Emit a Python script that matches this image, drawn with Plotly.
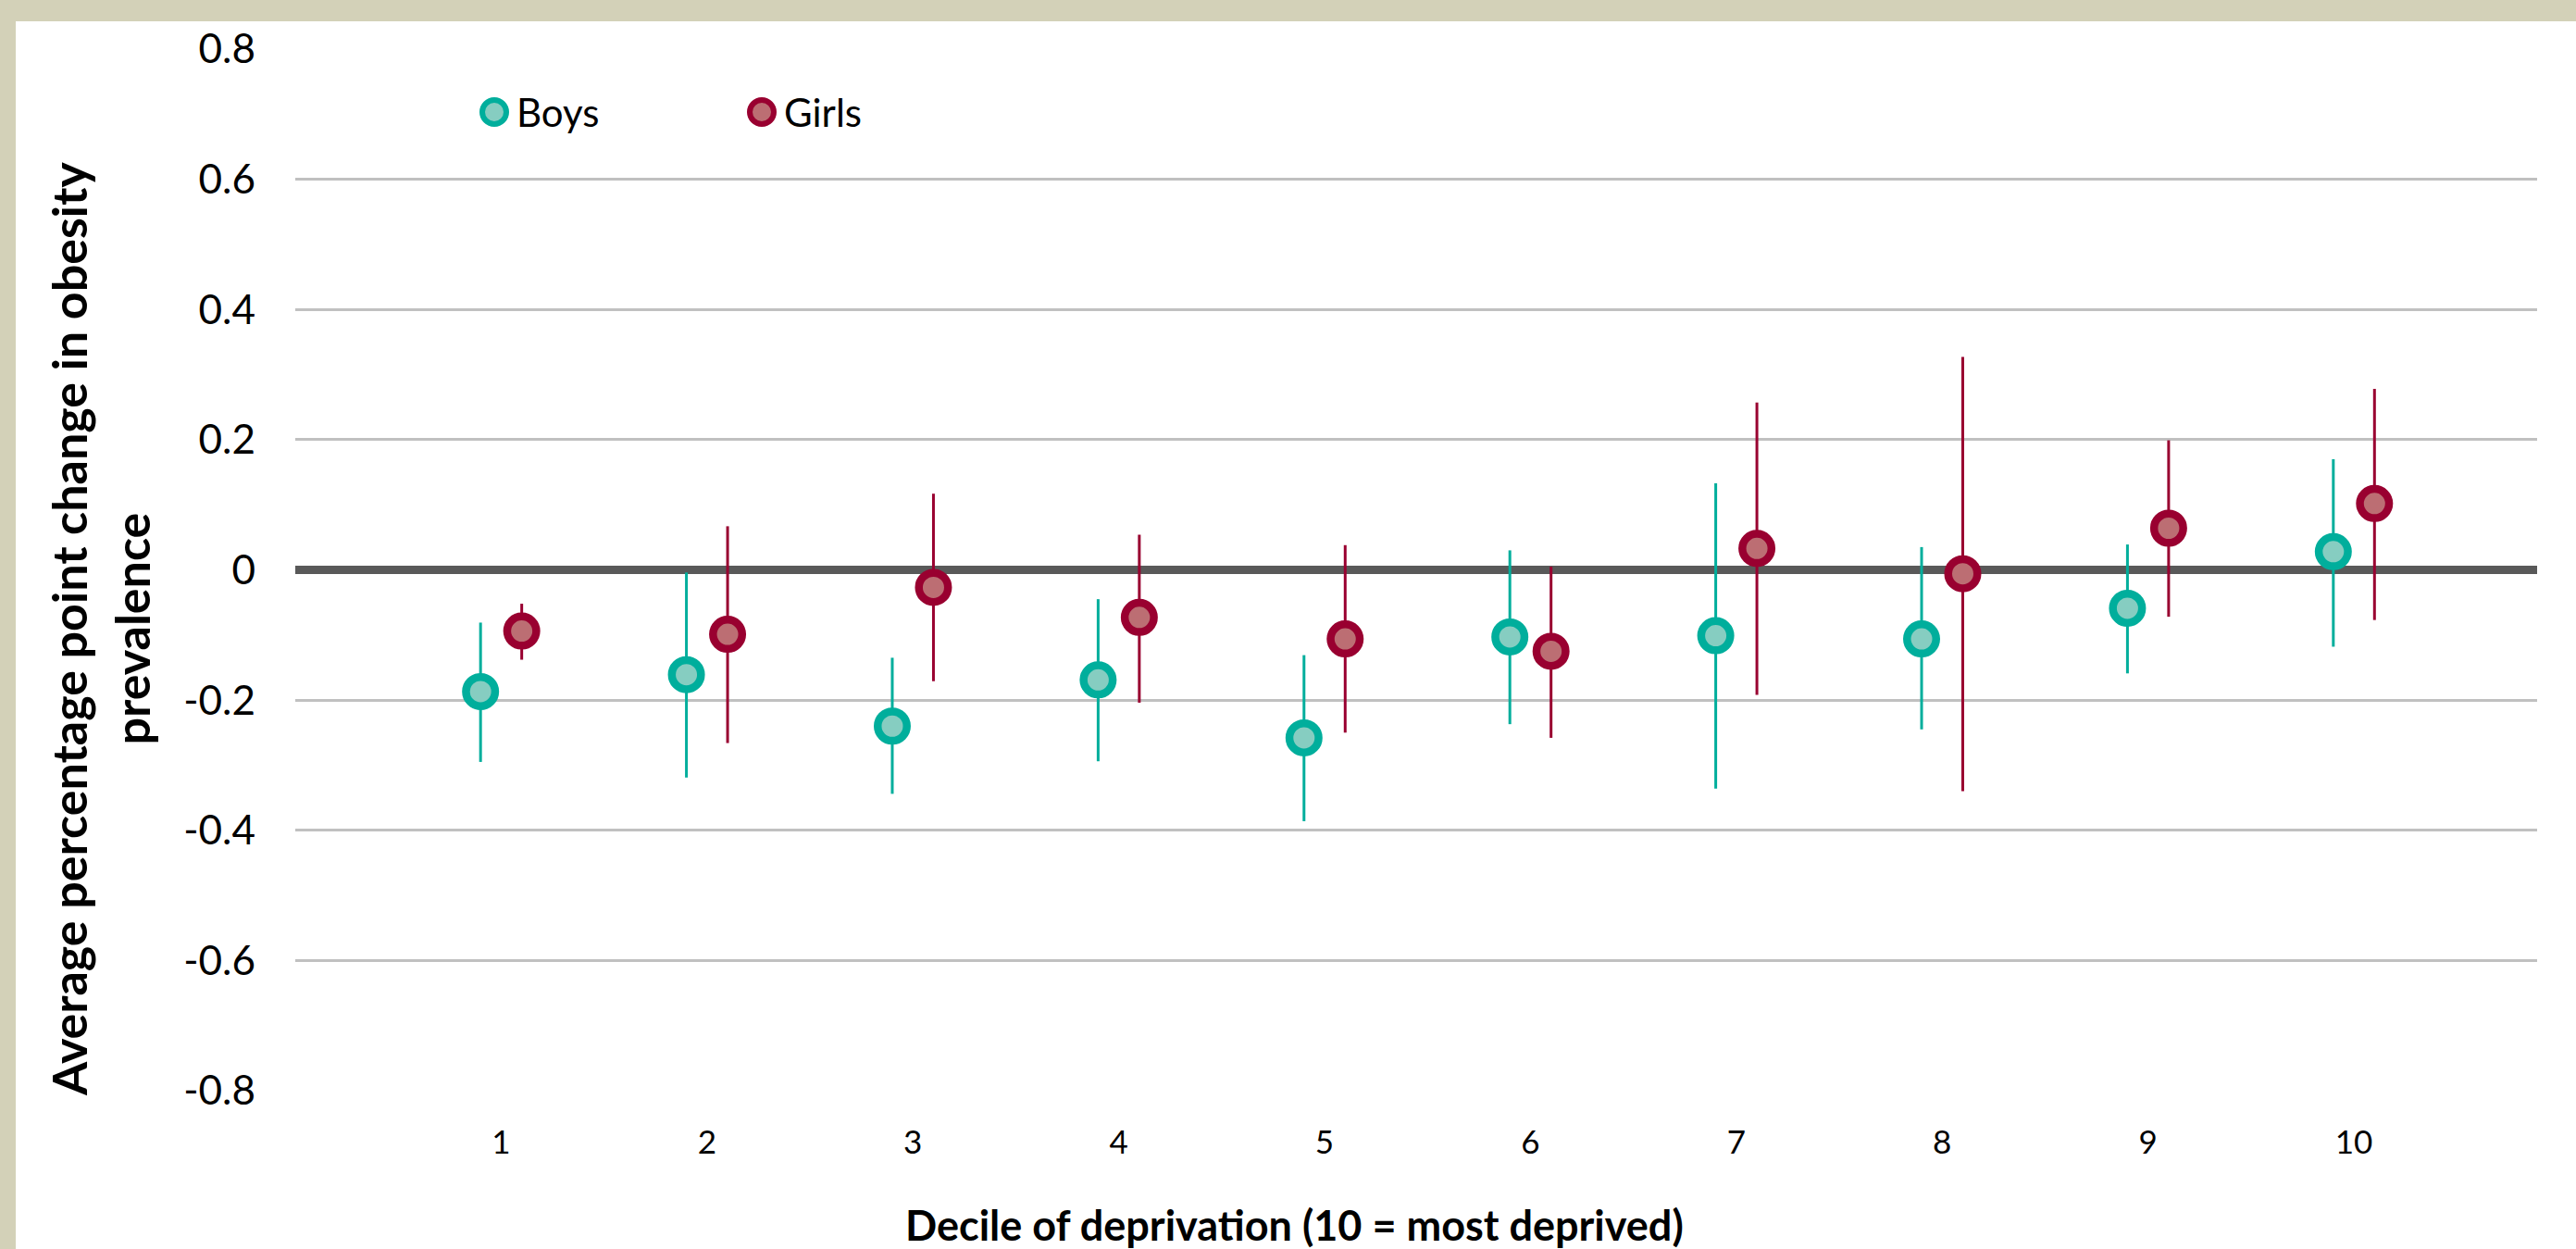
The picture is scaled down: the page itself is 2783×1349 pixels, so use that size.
import plotly.graph_objects as go

# ---- data ----
deciles = [1, 2, 3, 4, 5, 6, 7, 8, 9, 10]
decile_labels = ["1", "2", "3", "4", "5", "6", "7", "8", "9", "10"]

boys = [-0.187, -0.161, -0.240, -0.169, -0.258, -0.103, -0.101, -0.106, -0.059, 0.028]
boys_upper = [-0.081, -0.004, -0.135, -0.045, -0.131, 0.030, 0.133, 0.035, 0.039, 0.170]
boys_lower = [-0.295, -0.319, -0.344, -0.294, -0.386, -0.237, -0.336, -0.245, -0.159, -0.118]

girls = [-0.094, -0.099, -0.027, -0.073, -0.106, -0.125, 0.033, -0.006, 0.064, 0.102]
girls_upper = [-0.052, 0.067, 0.117, 0.054, 0.038, 0.005, 0.257, 0.327, 0.199, 0.278]
girls_lower = [-0.138, -0.266, -0.171, -0.204, -0.250, -0.258, -0.192, -0.340, -0.072, -0.077]

y_ticks = [-0.8, -0.6, -0.4, -0.2, 0, 0.2, 0.4, 0.6, 0.8]
y_tick_labels = ["-0.8", "-0.6", "-0.4", "-0.2", "0", "0.2", "0.4", "0.6", "0.8"]

# ---- style ----
W, H = 2783, 1349
L, R, T, B = 319, 42, 53, 171
BOYS_LINE, BOYS_FILL = "#00AE9C", "#86CDC1"
GIRLS_LINE, GIRLS_FILL = "#990030", "#BC6E73"
BEIGE = "#D3D1B8"
FONT = "Lato"
OFFSET = 0.1

pw, ph = W - L - R, H - T - B
def px_x(p):
    return (p - L) / pw
def px_y(p):
    return (H - B - p) / ph

fig = go.Figure()

def add_series(name, xs, vals, up, lo, line_c, fill_c):
    fig.add_trace(go.Scatter(
        x=xs, y=vals, name=name, mode="markers",
        marker=dict(size=31.5, color=fill_c, line=dict(color=line_c, width=8.5)),
        error_y=dict(type="data", symmetric=False,
                     array=[u - v for u, v in zip(up, vals)],
                     arrayminus=[v - l for v, l in zip(vals, lo)],
                     color=line_c, thickness=3, width=0),
        showlegend=False,
    ))

add_series("Boys", [d - OFFSET for d in deciles], boys, boys_upper, boys_lower, BOYS_LINE, BOYS_FILL)
add_series("Girls", [d + OFFSET for d in deciles], girls, girls_upper, girls_lower, GIRLS_LINE, GIRLS_FILL)

shapes = [
    # beige frame (top and left bands)
    dict(type="rect", xref="paper", yref="paper", layer="below",
         x0=px_x(0), x1=px_x(W), y0=px_y(23), y1=px_y(0),
         fillcolor=BEIGE, line=dict(width=0)),
    dict(type="rect", xref="paper", yref="paper", layer="below",
         x0=px_x(0), x1=px_x(17), y0=px_y(H), y1=px_y(0),
         fillcolor=BEIGE, line=dict(width=0)),
]
# custom legend markers
for cx, lc, fc in [(534, BOYS_LINE, BOYS_FILL), (823, GIRLS_LINE, GIRLS_FILL)]:
    shapes.append(dict(type="circle", xref="paper", yref="paper",
                       xsizemode="pixel", ysizemode="pixel",
                       xanchor=px_x(cx), yanchor=px_y(121),
                       x0=-13, x1=13, y0=-13, y1=13,
                       fillcolor=fc, line=dict(color=lc, width=6)))

annotations = [
    dict(text="Boys", xref="paper", yref="paper", x=px_x(556), y=px_y(121),
         xanchor="left", yanchor="middle", showarrow=False,
         font=dict(family=FONT, size=42, color="#000000")),
    dict(text="Girls", xref="paper", yref="paper", x=px_x(845), y=px_y(121),
         xanchor="left", yanchor="middle", showarrow=False,
         font=dict(family=FONT, size=42, color="#000000")),
    dict(text="Average percentage point change in obesity<br>prevalence",
         xref="paper", yref="paper", x=px_x(108), y=px_y(680),
         xanchor="center", yanchor="middle", showarrow=False, textangle=-90,
         font=dict(family=FONT, size=52, color="#000000", weight="bold")),
    dict(text="Decile of deprivation (10 = most deprived)",
         xref="paper", yref="paper", x=px_x(976), y=px_y(1323),
         xanchor="left", yanchor="middle", showarrow=False,
         font=dict(family=FONT, size=45, color="#000000", weight="bold")),
]

fig.update_layout(
    width=W, height=H,
    margin=dict(l=L, r=R, t=T, b=B, pad=0),
    paper_bgcolor="#FFFFFF", plot_bgcolor="#FFFFFF",
    shapes=shapes, annotations=annotations,
    showlegend=False,
    font=dict(family=FONT, color="#000000"),
)
fig.update_xaxes(
    range=[0, 10.89], tickvals=deciles, ticktext=decile_labels,
    showgrid=False, zeroline=False, showline=False, ticks="",
    tickfont=dict(family=FONT, size=35, color="#000000"),
    ticklabelstandoff=32,
)
fig.update_yaxes(
    range=[-0.8, 0.8], tickvals=y_ticks, ticktext=y_tick_labels,
    showgrid=True, gridcolor="#C0C0C0", gridwidth=2.5,
    zeroline=True, zerolinecolor="#595959", zerolinewidth=9,
    showline=False, ticks="",
    tickfont=dict(family=FONT, size=44, color="#000000"),
    ticklabelstandoff=42,
)

fig.write_html(
    "out.html",
    config={"displayModeBar": False},
    post_script="document.body.style.margin='0';document.body.style.overflow='hidden';",
)
